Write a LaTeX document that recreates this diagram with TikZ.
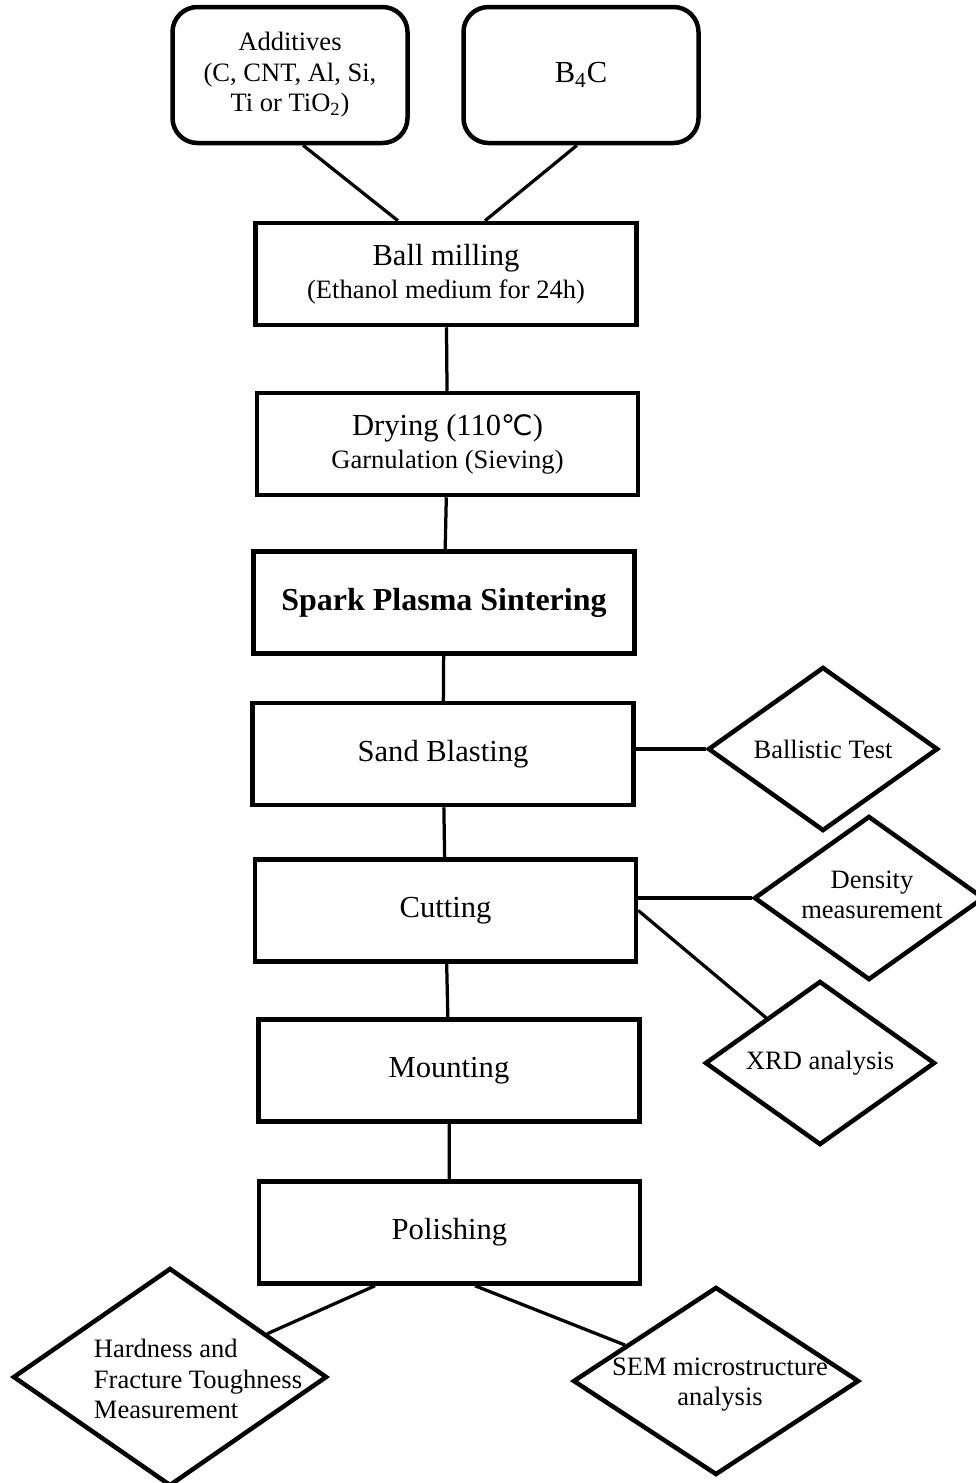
\documentclass[tikz,border=0pt]{standalone}
\usepackage{fontspec}
\setmainfont{Liberation Serif}
\newfontfamily\symfont{DejaVu Sans}
\usetikzlibrary{shapes.geometric}

\newcommand{\smallfnt}{\fontsize{15.1pt}{17.4pt}\selectfont}
\newcommand{\largefnt}{\fontsize{17.4pt}{19pt}\selectfont}

\begin{document}
\begin{tikzpicture}

\tikzset{stage/.style = {shape=rectangle,draw,line width=0.09cm,minimum width=7.62cm,minimum height=2.04cm,align=center,font=\largefnt}}
\tikzset{source/.style = {shape=rectangle,draw,rounded corners=0.5cm,line width=0.09cm,minimum width=4.7cm,minimum height=2.72cm,align=center,font=\smallfnt}}
\tikzset{test/.style = {shape=diamond,draw,line width=0.09cm,inner sep=0pt,minimum width=4.6cm,minimum height=3.28cm}}
\tikzset{testtext/.style = {align=center,font=\smallfnt}}
\tikzset{link/.style = {line width=0.065cm}}

\useasboundingbox (0,0) rectangle (19.52,-29.66);

\node[source] (additives) at (5.80,-1.50) {Additives\\(C, CNT, Al, Si,\\Ti or TiO\textsubscript{2})};
\node[source,font=\largefnt] (b4c) at (11.62,-1.50) {B\textsubscript{4}C};

\node[stage] (milling) at (8.92,-5.48) {Ball milling\\{\smallfnt (Ethanol medium for 24h)}};
\node[stage] (drying) at (8.95,-8.88) {Drying (110{\symfont\fontsize{16pt}{19pt}\selectfont ℃})\\{\smallfnt Garnulation (Sieving)}};
\node[stage,font=\fontsize{18.2pt}{20pt}\selectfont] (sps) at (8.88,-12.05) {\textbf{Spark Plasma Sintering}};
\node[stage] (blasting) at (8.86,-15.08) {Sand Blasting};
\node[stage] (cutting) at (8.91,-18.21) {Cutting};
\node[stage] (mounting) at (8.98,-21.41) {Mounting};
\node[stage] (polishing) at (8.99,-24.65) {Polishing};

\node[test] (ballistic) at (16.46,-14.98) {};
\node[testtext] (ballistic-t) at (ballistic) {Ballistic Test};
\node[test] (density) at (17.38,-17.96) {};
\node[testtext] (density-t) at (17.44,-17.90) {Density\\measurement};
\node[test] (xrd) at (16.40,-21.26) {};
\node[testtext] (xrd-t) at (xrd) {XRD analysis};
\node[test,minimum width=6.28cm,minimum height=4.36cm] (hardness) at (3.40,-27.54) {};
\node[testtext,align=left] (hardness-t) at (3.96,-27.58) {Hardness and\\Fracture Toughness\\Measurement};
\node[test,minimum width=5.72cm,minimum height=3.76cm] (sem) at (14.32,-27.62) {};
\node[testtext] (sem-t) at (14.40,-27.69) {SEM microstructure\\analysis};

\draw[link] ([xshift=0.26cm]additives.south) -- ([xshift=-0.96cm]milling.north);
\draw[link] ([xshift=-0.08cm]b4c.south) -- ([xshift=0.78cm]milling.north);
\draw[link] (milling) -- (drying);
\draw[link] (drying) -- (sps);
\draw[link] (sps) -- (blasting);
\draw[link] (blasting) -- (cutting);
\draw[link] (cutting) -- (mounting);
\draw[link] (mounting) -- (polishing);
\draw[link] (blasting.east |- ballistic.west) -- (ballistic.west);
\draw[link] (cutting.east |- density.west) -- (density.west);
\draw[link] (cutting.east) -- (xrd);
\draw[link] ([xshift=-1.49cm]polishing.south) -- (hardness);
\draw[link] ([xshift=0.51cm]polishing.south) -- (sem);

\end{tikzpicture}
\end{document}
